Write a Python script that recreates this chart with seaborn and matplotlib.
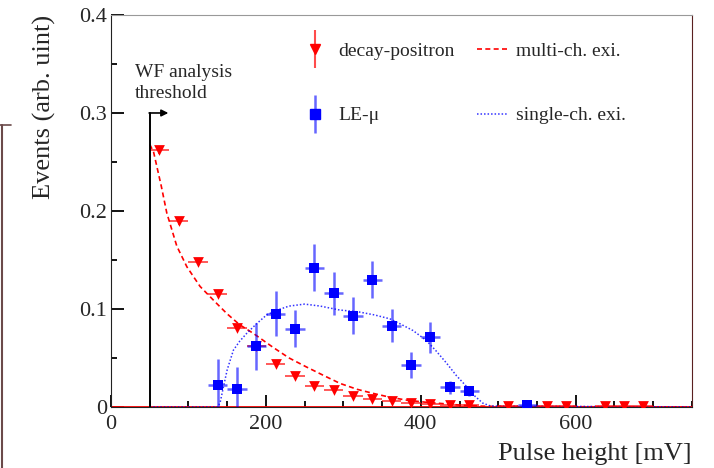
import numpy as np
import pandas as pd
import seaborn as sns
import matplotlib.pyplot as plt
from matplotlib.lines import Line2D
from matplotlib.ticker import MultipleLocator
from matplotlib.legend_handler import HandlerTuple

# decay-positron points (bins of 25 mV)
red_x = [62.5, 87.5, 112.5, 137.5, 162.5, 187.5, 212.5, 237.5, 262.5, 287.5,
         312.5, 337.5, 362.5, 387.5, 412.5, 437.5, 462.5, 512.5, 562.5, 587.5,
         637.5, 662.5, 687.5]
red_y = [0.262, 0.190, 0.148, 0.115, 0.081, 0.062, 0.044, 0.032, 0.021, 0.017,
         0.011, 0.008, 0.006, 0.004, 0.003, 0.002, 0.002, 0.001, 0.001, 0.001,
         0.001, 0.001, 0.001]
red_err = [0.004, 0.004, 0.003, 0.003, 0.003, 0.003, 0.002, 0.002, 0.002, 0.002,
           0.001, 0.001, 0.001, 0.001, 0.001, 0.001, 0.001, 0.001, 0.001, 0.001,
           0.001, 0.001, 0.001]

# LE-mu points
blue_x = [137.5, 162.5, 187.5, 212.5, 237.5, 262.5, 287.5, 312.5, 337.5, 362.5,
          387.5, 412.5, 437.5, 462.5, 537.5]
blue_y = [0.022, 0.018, 0.062, 0.095, 0.080, 0.142, 0.116, 0.093, 0.130, 0.083,
          0.043, 0.071, 0.020, 0.016, 0.002]
blue_err = [0.027, 0.023, 0.024, 0.023, 0.019, 0.024, 0.022, 0.019, 0.019, 0.017,
            0.013, 0.016, 0.007, 0.005, 0.001]
bin_half = 12.5

# multi-ch. exi. curve
multi_x = [50, 55, 65, 72, 85, 98, 115, 136, 150, 166, 184, 209, 230, 252, 275,
           296, 318, 338, 360, 382, 405, 425, 450, 475, 500, 750]
multi_y = [0.268, 0.260, 0.225, 0.198, 0.164, 0.143, 0.123, 0.106, 0.095, 0.084,
           0.075, 0.061, 0.050, 0.041, 0.032, 0.024, 0.018, 0.014, 0.010, 0.007,
           0.005, 0.0037, 0.002, 0.001, 0.0005, 0.0]

# single-ch. exi. curve
single_x = [50, 138, 141, 145, 150, 158, 166, 175, 188, 201, 215, 230, 250, 270,
            295, 320, 340, 360, 373, 390, 407, 420, 433, 446, 459, 470, 480, 490, 750]
single_y = [0.0, 0.0, 0.005, 0.020, 0.038, 0.058, 0.067, 0.075, 0.085, 0.094,
            0.099, 0.103, 0.105, 0.103, 0.099, 0.097, 0.094, 0.090, 0.085, 0.078,
            0.068, 0.057, 0.045, 0.032, 0.021, 0.011, 0.004, 0.001, 0.0]

threshold = 50

sns.set_style("ticks")
plt.rcParams['font.family'] = ['Liberation Serif', 'DejaVu Serif']

fig = plt.figure(figsize=(7.14, 4.68), dpi=100)
ax = fig.add_axes([0.1555, 0.1303, 0.8135, 0.8377])

red = "#ff0000"
blue = "#0000ff"

multi = pd.DataFrame({"x": multi_x, "y": multi_y})
single = pd.DataFrame({"x": single_x, "y": single_y})
sns.lineplot(data=multi, x="x", y="y", ax=ax, color=red, lw=1.2,
             linestyle=(0, (3, 2)), zorder=3)
sns.lineplot(data=single, x="x", y="y", ax=ax, color=blue, lw=1.1,
             linestyle=(0, (1, 1.3)), alpha=0.8, zorder=3)

ax.axhline(0, color=red, lw=1.3, zorder=2)

ax.errorbar(red_x, red_y, xerr=bin_half, yerr=red_err, fmt="none",
            ecolor=red, elinewidth=1.3, alpha=0.7, zorder=4)
ax.errorbar(blue_x, blue_y, xerr=bin_half, yerr=blue_err, fmt="none",
            ecolor=blue, elinewidth=1.8, alpha=0.6, zorder=4)
sns.scatterplot(x=red_x, y=red_y, ax=ax, marker="v", s=60, color=red,
                edgecolor=red, linewidth=0, zorder=5)
sns.scatterplot(x=blue_x, y=blue_y, ax=ax, marker="s", s=55, color=blue,
                edgecolor=blue, linewidth=0, zorder=5)

# threshold marker
ax.plot([threshold, threshold], [0, 0.30], color="black", lw=1.4, zorder=6)
ax.annotate("", xy=(74, 0.30), xytext=(threshold - 0.8, 0.30),
            arrowprops=dict(arrowstyle="-|>", color="black", lw=1.2,
                            mutation_scale=10, shrinkA=0, shrinkB=0))
ax.text(31, 0.311, "WF analysis\nthreshold", fontsize=14, ha="left",
        va="bottom", linespacing=1.3)

ax.set_xlim(0, 750)
ax.set_ylim(0, 0.4)
ax.set_xticks([0, 200, 400, 600])
ax.set_xticklabels(["0", "200", "400", "600"])
ax.set_yticks([0, 0.1, 0.2, 0.3, 0.4])
ax.set_yticklabels(["0", "0.1", "0.2", "0.3", "0.4"])
ax.xaxis.set_minor_locator(MultipleLocator(50))
ax.yaxis.set_minor_locator(MultipleLocator(0.05))
ax.tick_params(which="major", direction="in", length=9, width=1.3,
               color="black", labelsize=16, top=False, right=False)
ax.tick_params(which="minor", direction="in", length=4.5, width=1.3,
               color="black", top=False, right=False,
               bottom=True, left=True)
ax.tick_params(axis="x", pad=6)
ax.tick_params(axis="y", pad=3)

ax.set_xlabel("Pulse height [mV]", fontsize=19, loc="right")
ax.xaxis.set_label_coords(1.0, -0.093)
ax.set_ylabel("Events (arb. uint)", fontsize=19, loc="top")
ax.yaxis.set_label_coords(-0.095, 1.0)

for s in ["left", "bottom"]:
    ax.spines[s].set_color("#222222")
ax.spines["top"].set_color("#999999")
ax.spines["right"].set_color("#5a2020")

# legend
bar_r = Line2D([], [], color=red, marker="|", markersize=28, lw=0, alpha=0.7,
               markeredgewidth=1.5)
tri = Line2D([], [], color=red, marker="v", markersize=7, lw=0)
bar_b = Line2D([], [], color=blue, marker="|", markersize=28, lw=0, alpha=0.6,
               markeredgewidth=1.8)
sq = Line2D([], [], color=blue, marker="s", markersize=7, lw=0)
dash_h = Line2D([], [], color=red, lw=1.2, linestyle=(0, (3, 2)))
dot_h = Line2D([], [], color=blue, lw=1.1, linestyle=(0, (1, 1.3)), alpha=0.8)
ax.legend([(bar_r, tri), (bar_b, sq), dash_h, dot_h],
          ["decay-positron", "LE-\u03bc", "multi-ch. exi.", "single-ch. exi."],
          handler_map={tuple: HandlerTuple(ndivide=1)},
          ncol=2, frameon=False, fontsize=14, loc="upper left",
          bbox_to_anchor=(0.324, 0.93), borderaxespad=0, borderpad=0,
          labelspacing=2.4, handlelength=1.6, handletextpad=0.4,
          columnspacing=1.15)

# left frame edge artifact
fig.add_artist(Line2D([0.003, 0.003], [0, (468 - 125) / 468], color="#6b4a4a",
                      lw=1.5))
fig.add_artist(Line2D([0.0, 0.016], [(468 - 125) / 468] * 2, color="#6b4a4a",
                      lw=1.2))

fig.savefig("out.png", dpi=100)
